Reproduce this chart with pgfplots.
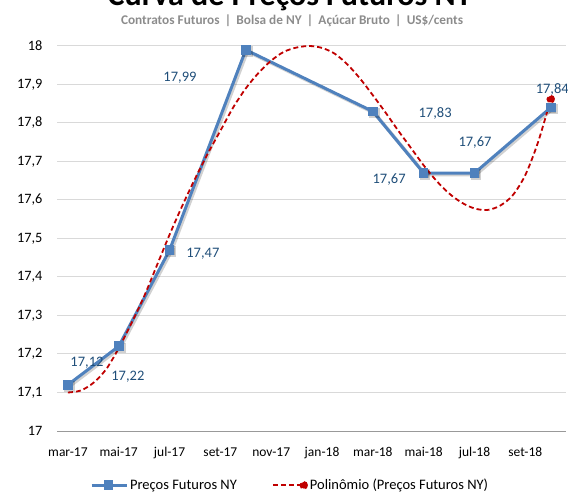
\documentclass[border=0pt]{standalone}
\usepackage{pgfplots}
\pgfplotsset{compat=1.18}
\usepackage{fontspec}
\setmainfont{Carlito}
\definecolor{blueline}{HTML}{4F81BD}
\definecolor{redline}{HTML}{C00000}
\definecolor{lblblue}{HTML}{1F4E79}
\definecolor{gridgray}{HTML}{D9D9D9}
\definecolor{subgray}{HTML}{8C8C8C}
\pgfplotsset{
  bluelegend/.style={legend image code/.code={\draw[mark repeat=2,mark phase=2,##1] plot coordinates {(0bp,0bp) (17bp,0bp) (35bp,0bp)};}},
  redlegend/.style={legend image code/.code={\draw[##1, mark=none] (0bp,0bp) -- (30bp,0bp); \fill[redline] (31bp,0bp) circle (3.3bp);}},
}
\begin{document}
\begin{tikzpicture}
\begin{axis}[
  at={(57bp,63bp)}, anchor=south west,
  scale only axis, width=509bp, height=385bp,
  xmin=-0.43, xmax=19.6, ymin=17, ymax=18,
  clip=false,
  axis x line*=bottom, axis y line*=left,
  x axis line style={color=black!40, line width=1bp},
  y axis line style={draw=none},
  major tick length=0pt,
  ymajorgrids, grid style={gridgray, line width=1bp},
  xtick={0,2,4,6,8,10,12,14,16,18},
  xticklabels={mar-17,mai-17,jul-17,set-17,nov-17,jan-18,mar-18,mai-18,jul-18,set-18},
  ytick={17,17.1,17.2,17.3,17.4,17.5,17.6,17.7,17.8,17.9,18},
  yticklabels={17,{17,1},{17,2},{17,3},{17,4},{17,5},{17,6},{17,7},{17,8},{17,9},18},
  xticklabel style={font=\fontsize{13.5bp}{15bp}\selectfont, yshift=-13bp},
  yticklabel style={font=\fontsize{14.3bp}{16bp}\selectfont, xshift=-11bp},
  legend columns=2,
  legend style={at={(0.458,-0.141)}, anchor=center, draw=none, fill=none,
    font=\fontsize{14.5bp}{16bp}\selectfont, column sep=0bp, inner sep=0bp,
    /tikz/every even column/.append style={column sep=33bp}},
]
\addplot[black, opacity=0.18, line width=3.5bp, mark=square*, mark size=3.5bp,
  forget plot, xshift=1.5bp, yshift=-1.5bp]
  coordinates {(0,17.12) (2,17.22) (4,17.47) (7,17.99) (12,17.83) (14,17.67) (16,17.67) (19,17.84)};
\addplot[blueline, line width=3bp, mark=square*, mark size=3.3bp, bluelegend]
  coordinates {(0,17.12) (2,17.22) (4,17.47) (7,17.99) (12,17.83) (14,17.67) (16,17.67) (19,17.84)};
\addlegendentry{Preços Futuros NY}
\addplot[redline, line width=1.8bp, dash pattern=on 5bp off 3bp, smooth, mark=*, mark size=3.3bp,
  mark indices={39}, redlegend]
  coordinates {(0,17.100) (0.5,17.105) (1,17.125) (1.5,17.16) (2,17.215) (2.5,17.28) (3,17.35) (3.5,17.43)
   (4,17.51) (4.5,17.585) (5,17.655) (5.5,17.72) (6,17.78) (6.5,17.84) (7,17.89) (7.5,17.93)
   (8,17.962) (8.5,17.985) (9,17.996) (9.5,18.0) (10,17.995) (10.5,17.98) (11,17.952) (11.5,17.915)
   (12,17.872) (12.5,17.827) (13,17.78) (13.5,17.735) (14,17.69) (14.5,17.65) (15,17.617) (15.5,17.593)
   (16,17.578) (16.5,17.574) (17,17.585) (17.5,17.612) (18,17.665) (18.5,17.75) (19,17.862)};
\addlegendentry{Polinômio (Preços Futuros NY)}
\begin{scope}[every node/.style={text=lblblue, font=\fontsize{14.5bp}{16bp}\selectfont}]
\node at (axis cs:0.75,17.177) {17,12};
\node at (axis cs:2.36,17.14) {17,22};
\node at (axis cs:5.31,17.46) {17,47};
\node at (axis cs:4.41,17.917) {17,99};
\node at (axis cs:14.45,17.826) {17,83};
\node at (axis cs:12.64,17.652) {17,67};
\node at (axis cs:16.02,17.748) {17,67};
\node at (axis cs:19.06,17.886) {17,84};
\end{scope}
\end{axis}
\node[anchor=base, font=\bfseries\fontsize{32bp}{34bp}\selectfont] at (290bp,488bp) {Curva de Preços Futuros NY};
\node[font=\bfseries\fontsize{13.3bp}{15bp}\selectfont, text=subgray] at (292bp,473bp) {Contratos Futuros \,|\, Bolsa de NY \,|\, Açúcar Bruto \,|\, US\$/cents};
\pgfresetboundingbox
\useasboundingbox (0bp,0bp) rectangle (568bp,494bp);
\end{tikzpicture}
\end{document}
